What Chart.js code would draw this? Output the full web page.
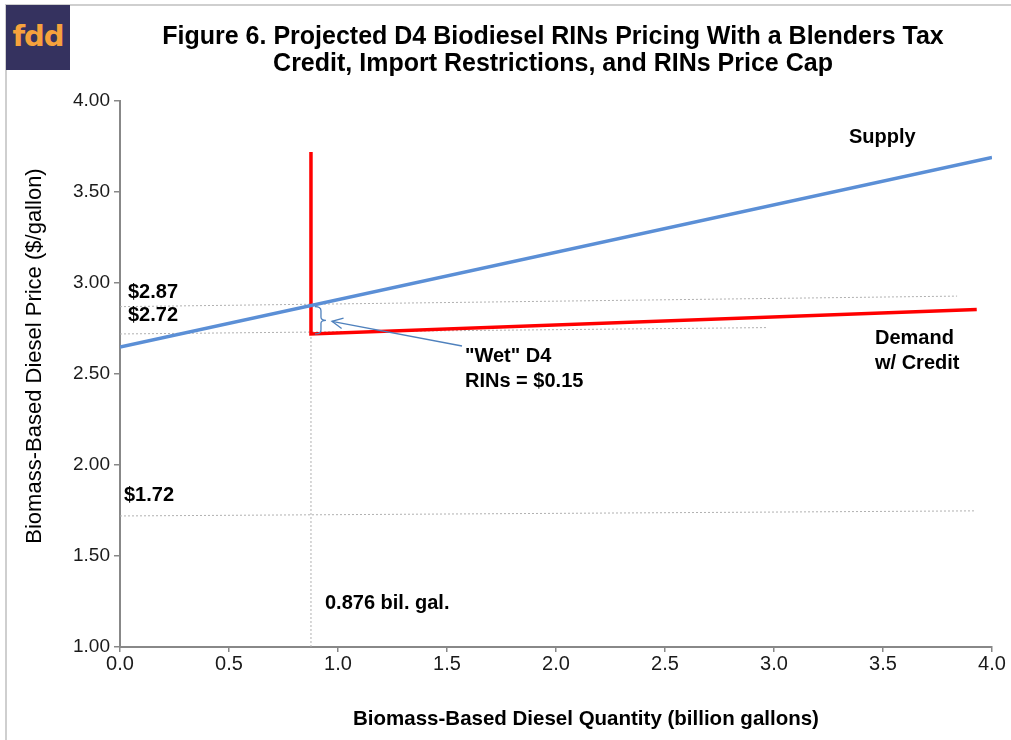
<!DOCTYPE html>
<html>
<head>
<meta charset="utf-8">
<title>Projected D4 Biodiesel RINs Pricing</title>
<script src="https://cdn.jsdelivr.net/npm/chart.js@4.4.1/dist/chart.umd.min.js"></script>
<style>
  html, body { margin: 0; padding: 0; background: #fff; }
  #wrap { position: relative; width: 1011px; height: 740px; overflow: hidden; }
  #frame { position: absolute; left: 5px; top: 4px; right: -10px; bottom: -10px;
           border-left: 2px solid #cfcfcf; border-top: 2px solid #cfcfcf; }
  #logo { position: absolute; left: 6px; top: 5px; width: 64px; height: 65px; background: #35325f;
          color: #f6a23c; font: bold 29px "DejaVu Sans", sans-serif; line-height: 62px;
          text-align: center; letter-spacing: -1px; }
  canvas { position: absolute; left: 0; top: 0; }
</style>
</head>
<body>
<div id="wrap">
  <div id="frame"></div>
  <canvas id="c" width="1011" height="740"></canvas>
  <div id="logo">fdd</div>
</div>
<script>
// Supply curve: quantity (billion gallons) and price ($/gallon)
const supplyQty = [0, 4];
const supplyPrice = [2.648, 3.69];

// Demand with the blenders credit: capped quantity, then a nearly flat price
const demandQty = [0.876, 0.876, 3.93];
const demandPrice = [3.72, 2.72, 2.855];

// Equilibrium and reference price levels
const eqQty = 0.876;
const eqPrice = 2.87;
const creditPrice = 2.72;
const noCreditPrice = 1.72;
const rinValue = 0.15;

// Dotted reference lines: start price at the y axis, end point to the right
const guideStartPrice = [eqPrice, creditPrice, noCreditPrice];
const guideEndQty = [3.84, 2.97, 3.92];
const guideEndPrice = [2.928, 2.755, 1.748];

// Axis ticks
const xTicks = [0, 0.5, 1, 1.5, 2, 2.5, 3, 3.5, 4];
const yTicks = [1, 1.5, 2, 2.5, 3, 3.5, 4];

const FONT = '"Liberation Sans", Arial, sans-serif';
const AXIS_GREY = '#888888';
const BLUE = '#5b8fd6';
const RED = '#ff0000';
const DOT_GREY = '#b0b0b0';

const pts = (xs, ys) => xs.map((x, i) => ({ x: x, y: ys[i] }));

const guideSets = guideStartPrice.map((p, i) => ({
  label: '$' + p.toFixed(2),
  data: [{ x: 0, y: p }, { x: guideEndQty[i], y: guideEndPrice[i] }],
  borderColor: DOT_GREY, borderWidth: 1, borderDash: [2, 2],
  pointRadius: 0, showLine: true, fill: false
}));

const datasets = [
  { label: 'Supply', data: pts(supplyQty, supplyPrice), borderColor: BLUE, borderWidth: 3.5,
    pointRadius: 0, showLine: true, fill: false },
  { label: 'Demand w/ Credit', data: pts(demandQty, demandPrice), borderColor: RED, borderWidth: 3.5,
    pointRadius: 0, showLine: true, fill: false, borderJoinStyle: 'miter', borderCapStyle: 'butt' },
  { label: 'Quantity', data: [{ x: eqQty, y: 1 }, { x: eqQty, y: eqPrice }],
    borderColor: DOT_GREY, borderWidth: 1, borderDash: [2, 2], pointRadius: 0, showLine: true, fill: false },
  ...guideSets
];

function text(ctx, str, x, y, font, align) {
  ctx.font = font;
  ctx.fillStyle = '#000';
  ctx.textAlign = align || 'left';
  ctx.textBaseline = 'middle';
  ctx.fillText(str, x, y);
}

const annotations = {
  id: 'annotations',
  afterDraw(chart) {
    const ctx = chart.ctx;
    const xs = chart.scales.x, ys = chart.scales.y;
    const X = v => xs.getPixelForValue(v);
    const Y = v => ys.getPixelForValue(v);
    const bold = 'bold 20px ' + FONT;
    ctx.save();

    // Title
    text(ctx, 'Figure 6. Projected D4 Biodiesel RINs Pricing With a Blenders Tax', 553, 37, 'bold 25px ' + FONT, 'center');
    text(ctx, 'Credit, Import Restrictions, and RINs Price Cap', 553, 64, 'bold 25px ' + FONT, 'center');

    // Axis titles
    text(ctx, 'Biomass-Based Diesel Quantity (billion gallons)', 586, 719, 'bold 20.5px ' + FONT, 'center');
    ctx.save();
    ctx.translate(35, 356);
    ctx.rotate(-Math.PI / 2);
    text(ctx, 'Biomass-Based Diesel Price ($/gallon)', 0, 0, '22px ' + FONT, 'center');
    ctx.restore();

    // Price level labels
    text(ctx, '$' + eqPrice.toFixed(2), 128, Y(eqPrice) - 14, bold);
    text(ctx, '$' + creditPrice.toFixed(2), 128, Y(creditPrice) - 18, bold);
    text(ctx, '$' + noCreditPrice.toFixed(2), 124, Y(noCreditPrice) - 20, bold);
    text(ctx, eqQty.toFixed(3) + ' bil. gal.', X(eqQty) + 14, 603, bold);

    // Curve labels
    text(ctx, 'Supply', 849, 137, bold);
    text(ctx, 'Demand', 875, 338, bold);
    text(ctx, 'w/ Credit', 875, 363, bold);
    text(ctx, '"Wet" D4', 465, 356, bold);
    text(ctx, 'RINs = $' + rinValue.toFixed(2), 465, 381, bold);

    // Brace spanning the RIN value between the two prices
    const bx = X(eqQty) + 4, yTop = Y(eqPrice), yBot = Y(creditPrice);
    const ym = (yTop + yBot) / 2, w = 6;
    ctx.strokeStyle = '#4f81bd';
    ctx.lineWidth = 1.3;
    ctx.beginPath();
    ctx.moveTo(bx, yTop);
    ctx.quadraticCurveTo(bx + w, yTop, bx + w, yTop + 4);
    ctx.lineTo(bx + w, ym - 3);
    ctx.quadraticCurveTo(bx + w, ym, bx + w + 5, ym);
    ctx.quadraticCurveTo(bx + w, ym, bx + w, ym + 3);
    ctx.lineTo(bx + w, yBot - 4);
    ctx.quadraticCurveTo(bx + w, yBot, bx, yBot);
    ctx.stroke();

    // Arrow from the RIN label to the brace
    const tipX = bx + w + 11, tipY = ym + 1;
    const tailX = 462, tailY = 346;
    ctx.beginPath();
    ctx.moveTo(tailX, tailY);
    ctx.lineTo(tipX, tipY);
    ctx.stroke();
    const ang = Math.atan2(tailY - tipY, tailX - tipX);
    const len = 12, spread = 0.45;
    ctx.beginPath();
    ctx.moveTo(tipX + len * Math.cos(ang - spread), tipY + len * Math.sin(ang - spread));
    ctx.lineTo(tipX, tipY);
    ctx.lineTo(tipX + len * Math.cos(ang + spread), tipY + len * Math.sin(ang + spread));
    ctx.stroke();

    ctx.restore();
  }
};

new Chart(document.getElementById('c'), {
  type: 'scatter',
  data: { datasets: datasets },
  plugins: [annotations],
  options: {
    responsive: false,
    animation: false,
    devicePixelRatio: 1,
    layout: { padding: { left: 0, right: 19, top: 101, bottom: 0 } },
    plugins: { legend: { display: false }, tooltip: { enabled: false }, title: { display: false } },
    elements: { line: { tension: 0 } },
    scales: {
      x: {
        type: 'linear', min: 0, max: 4,
        afterBuildTicks: s => { s.ticks = xTicks.map(v => ({ value: v })); },
        afterFit: s => { s.height = 93; },
        ticks: { callback: v => v.toFixed(1), font: { family: FONT, size: 20 }, color: '#1a1a1a', padding: 0, maxRotation: 0 },
        grid: { drawOnChartArea: false, drawTicks: true, tickLength: 5, color: AXIS_GREY, lineWidth: 1.5 },
        border: { color: AXIS_GREY, width: 2 }
      },
      y: {
        type: 'linear', min: 1, max: 4,
        afterBuildTicks: s => { s.ticks = yTicks.map(v => ({ value: v })); },
        afterFit: s => { s.width = 120; },
        ticks: { callback: v => v.toFixed(2), font: { family: FONT, size: 19 }, color: '#1a1a1a', padding: 4 },
        grid: { drawOnChartArea: false, drawTicks: true, tickLength: 6, color: AXIS_GREY, lineWidth: 1.5 },
        border: { color: AXIS_GREY, width: 2 }
      }
    }
  }
});
</script>
</body>
</html>
